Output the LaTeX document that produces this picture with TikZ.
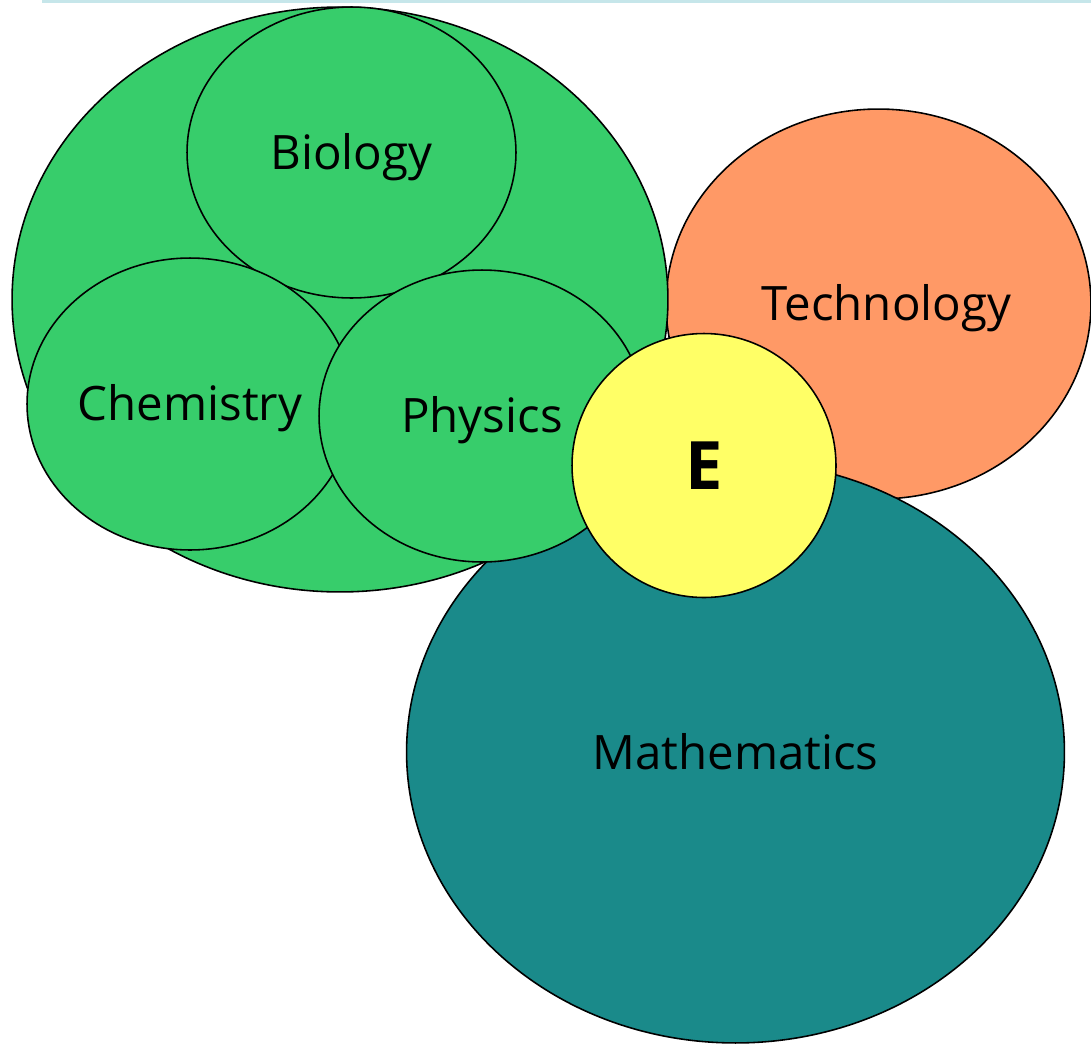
\documentclass[tikz,border=0pt]{standalone}
\usepackage{fontspec}
\setmainfont{Open Sans}
\usepackage{tikz}
\usetikzlibrary{shapes}

\definecolor{scigreen}{HTML}{37CD6B}
\definecolor{techorange}{HTML}{FF9966}
\definecolor{mathteal}{HTML}{1A8A8A}
\definecolor{engyellow}{HTML}{FFFF66}
\definecolor{rulecyan}{HTML}{C6E6EA}

% drop a label a little without changing the box the node sees
\newcommand{\lowtext}[1]{\raisebox{-2.5pt}[\height][\depth]{#1}}

\tikzset{
  bubble/.style={ellipse, draw=black, line width=0.9pt, inner sep=0pt, outer sep=0pt,
                 font=\fontsize{27}{30}\selectfont, text=black},
  core/.style={circle, draw=black, line width=0.9pt, inner sep=0pt, outer sep=0pt,
               fill=engyellow, font=\fontsize{38}{40}\selectfont\bfseries}
}

\begin{document}
\begin{tikzpicture}[x=0.02cm, y=-0.02cm]
          \useasboundingbox (0,0) rectangle (1091,1045);
          \draw[rulecyan, line width=0.06cm] (42,1.5) -- (1091,1.5);
          \node[bubble, fill=techorange, minimum width=8.5cm, minimum height=7.8cm]
               (tech) at (878.5,304) {\hspace*{9pt}\lowtext{Technology}};
          \node[bubble, fill=mathteal, minimum width=13.16cm, minimum height=11.64cm]
               (math) at (735.5,752) {Mathematics};
          \node[bubble, fill=scigreen, minimum width=13.12cm, minimum height=11.7cm]
               (sci) at (340,299.5) {};
          \node[bubble, fill=scigreen, minimum width=6.58cm, minimum height=5.82cm]
               (bio) at (351.5,152.5) {\lowtext{Biology}};
          \node[bubble, fill=scigreen, minimum width=6.52cm, minimum height=5.84cm]
               (chem) at (190,404) {\lowtext{Chemistry}};
          \node[bubble, fill=scigreen, minimum width=6.52cm, minimum height=5.84cm]
               (phys) at (482,416) {\lowtext{Physics}};
          \node[core, minimum size=5.28cm] (eng) at (704,465.5) {E};
        \end{tikzpicture}
\end{document}
